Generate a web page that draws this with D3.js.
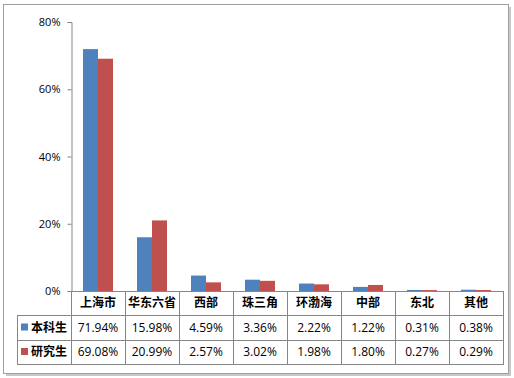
<!DOCTYPE html>
<html><head><meta charset="utf-8">
<script src="https://cdn.jsdelivr.net/npm/d3@7"></script>
<style>
body{margin:0;background:#fff;}
svg{display:block;}
</style></head><body>
<svg id="c" width="514" height="378"></svg>
<script>
const categories = ["上海市","华东六省","西部","珠三角","环渤海","中部","东北","其他"];
const seriesNames = ["本科生","研究生"];
const undergrad = [71.94,15.98,4.59,3.36,2.22,1.22,0.31,0.38];
const graduate = [69.08,20.99,2.57,3.02,1.98,1.80,0.27,0.29];
const yTicks = [0,20,40,60,80];
const colors = ["#4F81BD","#C0504D"];
const series = [undergrad, graduate];

const svg = d3.select("#c");
const numFont = "'Open Sans','Noto Sans',sans-serif";
const cjkFont = "'Noto Sans CJK SC',sans-serif";

// frame with shadow
svg.append("rect").attr("x",6).attr("y",7).attr("width",505).attr("height",369).attr("fill","#c8c8c8");
svg.append("rect").attr("x",3.5).attr("y",4.5).attr("width",505).attr("height",369).attr("fill","#fff").attr("stroke","#a0a0a0").attr("stroke-width",1);

const x0 = 71, x1 = 503, yTop = 22, yBot = 291;
const x = d3.scaleBand().domain(categories).range([x0,x1]).paddingInner(0).paddingOuter(0);
const y = d3.scaleLinear().domain([0,80]).range([yBot,yTop]);
const inner = d3.scaleBand().domain([0,1]).range([12, x.bandwidth()-12]);

// y axis
const yAxis = d3.axisLeft(y).tickValues(yTicks).tickSize(4).tickPadding(4).tickFormat(d=>d+"%");
const ga = svg.append("g").attr("transform",`translate(${x0+0.5},0)`).call(yAxis);
ga.select(".domain").attr("stroke","#868686");
ga.selectAll(".tick line").attr("stroke","#868686");
ga.selectAll(".tick text").attr("font-family",numFont).attr("font-size",11).attr("fill","#000").attr("dx",-3);

// bars
series.forEach((s,si)=>{
  svg.append("g").selectAll("rect").data(s).join("rect")
    .attr("x",(d,i)=>x(categories[i])+inner(si))
    .attr("width",inner.bandwidth())
    .attr("y",d=>y(d))
    .attr("height",d=>yBot-y(d))
    .attr("fill",colors[si]);
});

// table
const rowH = [291,315,340,364];
const tl = svg.append("g").attr("stroke","#868686").attr("stroke-width",1).attr("fill","none");
// horizontal lines
tl.append("line").attr("x1",x0).attr("x2",x1).attr("y1",rowH[0]+0.5).attr("y2",rowH[0]+0.5);
[1,2,3].forEach(i=>{
  tl.append("line").attr("x1",17).attr("x2",x1).attr("y1",rowH[i]+0.5).attr("y2",rowH[i]+0.5);
});
// vertical lines
categories.forEach(c=>{
  tl.append("line").attr("x1",x(c)+0.5).attr("x2",x(c)+0.5).attr("y1",rowH[0]).attr("y2",rowH[3]+1);
});
tl.append("line").attr("x1",x1+0.5).attr("x2",x1+0.5).attr("y1",rowH[0]).attr("y2",rowH[3]+1);
tl.append("line").attr("x1",17.5).attr("x2",17.5).attr("y1",rowH[1]).attr("y2",rowH[3]+1);

// category labels
svg.append("g").selectAll("text").data(categories).join("text")
  .attr("x",d=>x(d)+x.bandwidth()/2).attr("y",(rowH[0]+rowH[1])/2+1)
  .attr("text-anchor","middle").attr("dominant-baseline","middle")
  .attr("font-family",cjkFont).attr("font-weight","bold").attr("font-size",12).attr("fill","#000")
  .text(d=>d);

// series rows
series.forEach((s,si)=>{
  const cy = (rowH[si+1]+rowH[si+2])/2;
  svg.append("rect").attr("x",21).attr("y",cy-4).attr("width",7).attr("height",7).attr("fill",colors[si]);
  svg.append("text").attr("x",31).attr("y",cy+1).attr("dominant-baseline","middle")
    .attr("font-family",cjkFont).attr("font-weight","bold").attr("font-size",12).attr("fill","#000")
    .text(seriesNames[si]);
  svg.append("g").selectAll("text").data(s).join("text")
    .attr("x",(d,i)=>x(categories[i])+x.bandwidth()/2).attr("y",cy+1)
    .attr("text-anchor","middle").attr("dominant-baseline","middle")
    .attr("font-family",numFont).attr("font-size",12).attr("fill","#000")
    .text(d=>d.toFixed(2)+"%");
});
</script>
</body></html>
